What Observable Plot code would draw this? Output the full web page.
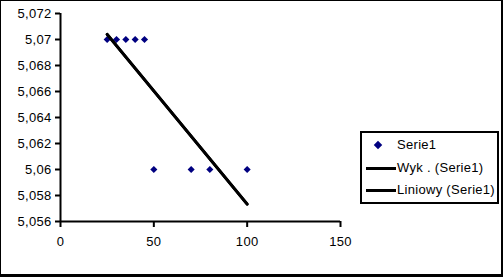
<!DOCTYPE html>
<html>
<head>
<meta charset="utf-8">
<script src="https://cdn.jsdelivr.net/npm/d3@7"></script>
<script src="https://cdn.jsdelivr.net/npm/@observablehq/plot@0.6"></script>
<style>
  html, body { margin: 0; padding: 0; background: white; }
  #wrap { position: relative; width: 503px; height: 277px; overflow: hidden; background: white; }
  #wrap svg text { letter-spacing: 0.3px; }
  #frame { position: absolute; left: 0; top: 0; width: 503px; height: 277px; box-sizing: border-box;
           border-style: solid; border-color: black; border-width: 1px 2px 3px 1px; pointer-events: none; }
  #legend { position: absolute; left: 360px; top: 131px; width: 139px; height: 73px; box-sizing: border-box;
            border: 2px solid black; background: white;
            font-family: "Liberation Sans", Arial, sans-serif; font-size: 13px; letter-spacing: 0.3px; color: black; }
  .row { position: absolute; left: 0; height: 16px; line-height: 16px; white-space: nowrap; }
  .row .lbl { position: absolute; left: 35px; top: 0; }
  .sw-line { position: absolute; left: 4px; top: 7px; width: 30px; height: 3px; background: black; }
  .sw-dot { position: absolute; left: 13px; top: 5px; width: 6px; height: 6px; background: #000080; transform: rotate(45deg); }
</style>
</head>
<body>
<div id="wrap"></div>
<script>
// Data
const xValues = [25, 30, 35, 40, 45, 50, 70, 80, 100];
const yValues = [5.07, 5.07, 5.07, 5.07, 5.07, 5.06, 5.06, 5.06, 5.06];
const xTicks = [0, 50, 100, 150];
const yTicks = [5.056, 5.058, 5.06, 5.062, 5.064, 5.066, 5.068, 5.07, 5.072];
const legendLabels = ["Serie1", "Wyk . (Serie1)", "Liniowy (Serie1)"];

const data = xValues.map((x, i) => ({x, y: yValues[i]}));
const fmt = d => String(+d.toFixed(3)).replace(".", ",");

const chart = Plot.plot({
  width: 503,
  height: 277,
  marginLeft: 60,
  marginRight: 163,
  marginTop: 13,
  marginBottom: 56,
  x: {domain: [0, 150]},
  y: {domain: [5.056, 5.072]},
  style: {fontFamily: "Liberation Sans, Arial, sans-serif", fontSize: "13px", color: "black", background: "white"},
  marks: [
    Plot.axisY({ticks: yTicks, tickFormat: fmt, tickSize: 5, tickPadding: 4, strokeWidth: 2, label: null}),
    Plot.axisX({ticks: xTicks, tickSize: 6, tickPadding: 9, strokeWidth: 2, label: null}),
    Plot.ruleX([0], {strokeWidth: 2}),
    Plot.ruleY([5.056], {strokeWidth: 2}),
    Plot.dot(data, {x: "x", y: "y", symbol: "diamond2", r: 3.2, fill: "#000080", stroke: "none"}),
    Plot.linearRegressionY(data, {x: "x", y: "y", ci: 0, stroke: "black", strokeWidth: 3}),
    Plot.linearRegressionY(data, {x: "x", y: "y", ci: 0, stroke: "black", strokeWidth: 3})
  ]
});

const wrap = document.getElementById("wrap");
wrap.appendChild(chart);

// Legend
const legend = document.createElement("div");
legend.id = "legend";
const rowTops = [4, 26.5, 49];
legendLabels.forEach((label, i) => {
  const row = document.createElement("div");
  row.className = "row";
  row.style.top = rowTops[i] + "px";
  const sw = document.createElement("div");
  sw.className = i === 0 ? "sw-dot" : "sw-line";
  row.appendChild(sw);
  const t = document.createElement("span");
  t.className = "lbl";
  t.textContent = label;
  row.appendChild(t);
  legend.appendChild(row);
});
wrap.appendChild(legend);

const frame = document.createElement("div");
frame.id = "frame";
wrap.appendChild(frame);
</script>
</body>
</html>
